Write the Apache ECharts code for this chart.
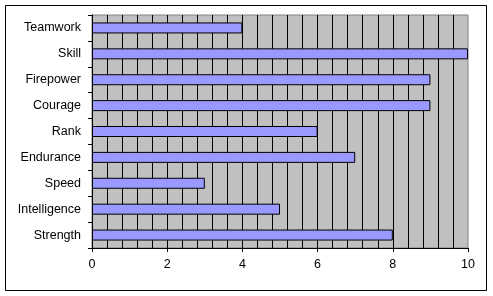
<!DOCTYPE html>
<html><head><meta charset="utf-8">
<script src="https://cdn.jsdelivr.net/npm/echarts@6/dist/echarts.min.js"></script>
<style>html,body{margin:0;padding:0;background:#fff;}#c{width:493px;height:296px;}</style>
</head><body><div id="c"></div>
<script>
var categories = ['Teamwork','Skill','Firepower','Courage','Rank','Endurance','Speed','Intelligence','Strength'];
var values = [4, 10, 9, 9, 6, 7, 3, 5, 8];
var xMin = 0, xMax = 10, xInterval = 2;

var chart = echarts.init(document.getElementById('c'), null, {renderer: 'canvas'});
var font = 'Liberation Sans, Arial, sans-serif';
chart.setOption({
  animation: false,
  backgroundColor: '#fff',
  graphic: [{type: 'rect', shape: {x: 5.5, y: 5.5, width: 481, height: 285},
    style: {fill: 'none', stroke: '#000', lineWidth: 1}, z: 100}],
  grid: {left: 92, right: 25, top: 15, bottom: 48, show: true,
    backgroundColor: '#C0C0C0', borderColor: '#808080', borderWidth: 1},
  xAxis: {type: 'value', min: xMin, max: xMax, interval: xInterval,
    axisLine: {show: true, lineStyle: {color: '#000', width: 1}},
    axisTick: {show: true, length: 4, lineStyle: {color: '#000'}},
    axisLabel: {color: '#000', fontSize: 12.5, fontFamily: font, margin: 10},
    splitLine: {show: true, showMaxLine: false, lineStyle: {color: '#000', width: 1}},
    minorTick: {show: false, splitNumber: 5},
    minorSplitLine: {show: true, lineStyle: {color: '#000', width: 1}}
  },
  yAxis: {type: 'category', data: categories, inverse: true,
    axisLine: {show: true, lineStyle: {color: '#000', width: 1}},
    axisTick: {show: true, length: 4, lineStyle: {color: '#000'}},
    axisLabel: {color: '#000', fontSize: 12.5, fontFamily: font, margin: 11},
    splitLine: {show: false}
  },
  series: [{type: 'bar', data: values, barWidth: 11,
    itemStyle: {color: '#9999FF', borderColor: '#000', borderWidth: 1}}]
});
</script></body></html>
